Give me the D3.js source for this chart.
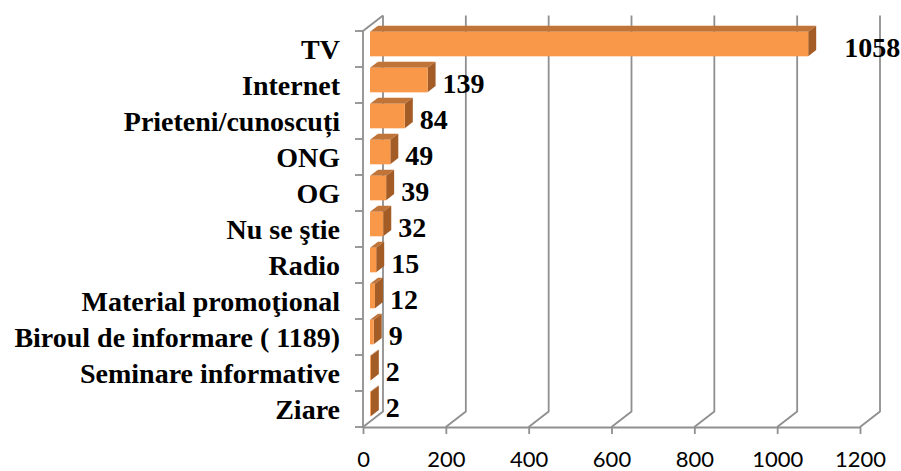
<!DOCTYPE html>
<html>
<head>
<meta charset="utf-8">
<script src="https://cdn.jsdelivr.net/npm/d3@7"></script>
<style>
  html, body { margin: 0; padding: 0; background: #fff; }
  .cat, .val { font-family: "Liberation Serif", "Times New Roman", serif; font-weight: bold; font-size: 28px; fill: #000; }
  .tick text { font-family: Lato, "Open Sans", sans-serif; font-size: 22px; fill: #000; }
</style>
</head>
<body>
<svg id="chart" width="901" height="471"></svg>
<script>
// data
var categories = ["TV", "Internet", "Prieteni/cunoscuți", "ONG", "OG", "Nu se ştie", "Radio",
  "Material promoţional", "Biroul de informare ( 1189)", "Seminare informative", "Ziare"];
var values = [1058, 139, 84, 49, 39, 32, 15, 12, 9, 2, 2];
var xTicks = [0, 200, 400, 600, 800, 1000, 1200];

var rows = categories.map(function(c, i) { return { name: c, value: values[i] }; });

var svg = d3.select("#chart");
var gridColor = "#8f8f8f";

// front plane of the 3d box, and the depth vector toward the back wall
var plotLeft = 363, plotRight = 860, plotTop = 31, plotBottom = 427;
var depth = { x: 20, y: -15.5 };
var f0 = 0.35, f1 = 0.75; // bar sits between these depth fractions

var x = d3.scaleLinear().domain([0, 1200]).range([plotLeft, plotRight]);
var y = d3.scaleBand().domain(categories).range([plotTop, plotBottom]);

// back wall gridlines + floor diagonals
var grid = svg.append("g")
  .attr("fill", "none")
  .attr("stroke", gridColor)
  .attr("stroke-width", 1.8);

grid.selectAll("path.grid")
  .data(xTicks)
  .join("path")
  .attr("class", "grid")
  .attr("d", function(v) {
    var bx = x(v) + depth.x;
    return "M" + bx + "," + (plotTop + depth.y) +
      "L" + bx + "," + (plotBottom + depth.y) +
      "L" + x(v) + "," + plotBottom;
  });

// left wall: front edge and top diagonal
grid.append("path")
  .attr("d", "M" + plotLeft + "," + plotBottom + "L" + plotLeft + "," + plotTop +
    "L" + (plotLeft + depth.x) + "," + (plotTop + depth.y));

// category ticks on the left wall, at band boundaries
var bounds = categories.map(function(c) { return y(c); }).concat([plotBottom]);
grid.selectAll("line.ytick")
  .data(bounds)
  .join("line")
  .attr("class", "ytick")
  .attr("x1", plotLeft - 8)
  .attr("x2", plotLeft)
  .attr("y1", function(d) { return d; })
  .attr("y2", function(d) { return d; });

// bars
var bw = y.bandwidth();
var barH = bw * 0.68;
var dd = { x: depth.x * (f1 - f0), y: depth.y * (f1 - f0) };

function barGeom(d) {
  var x0 = x(0) + depth.x * f0;
  var x1 = x(d.value) + depth.x * f0;
  var y0 = y(d.name) + (bw - barH) / 2 + 0.5 + depth.y * f0;
  return { x0: x0, x1: x1, y0: y0, y1: y0 + barH };
}

function pts(arr) {
  return arr.map(function(p) { return p.join(","); }).join(" ");
}

var bars = svg.append("g").selectAll("g.bar")
  .data(rows)
  .join("g")
  .attr("class", "bar");

bars.append("polygon")
  .attr("fill", "#c07438")
  .attr("points", function(d) {
    var g = barGeom(d);
    return pts([[g.x0, g.y0], [g.x1, g.y0], [g.x1 + dd.x, g.y0 + dd.y], [g.x0 + dd.x, g.y0 + dd.y]]);
  });

bars.append("polygon")
  .attr("fill", "#a35c26")
  .attr("points", function(d) {
    var g = barGeom(d);
    return pts([[g.x1, g.y0], [g.x1 + dd.x, g.y0 + dd.y], [g.x1 + dd.x, g.y1 + dd.y], [g.x1, g.y1]]);
  });

bars.append("rect")
  .attr("fill", "#f99848")
  .attr("x", function(d) { return barGeom(d).x0; })
  .attr("y", function(d) { return barGeom(d).y0; })
  .attr("width", function(d) { var g = barGeom(d); return Math.max(0, g.x1 - g.x0); })
  .attr("height", barH);

// value labels (the long TV bar's label sits further out, as in the original)
var maxVal = d3.max(values);
svg.append("g").selectAll("text")
  .data(rows)
  .join("text")
  .attr("class", "val")
  .attr("x", function(d) { return barGeom(d).x1 + (d.value === maxVal ? 36 : 15); })
  .attr("y", function(d) { var g = barGeom(d); return (g.y0 + g.y1) / 2 + 3; })
  .attr("dy", "0.35em")
  .text(function(d) { return d.value; });

// category labels
svg.append("g").selectAll("text")
  .data(categories)
  .join("text")
  .attr("class", "cat")
  .attr("x", 340)
  .attr("y", function(c) { return y(c) + bw / 2; })
  .attr("dy", "0.35em")
  .attr("text-anchor", "end")
  .text(function(c) { return c; });

// bottom value axis (floor front edge)
var xAxis = d3.axisBottom(x)
  .tickValues(xTicks)
  .tickFormat(d3.format("d"))
  .tickSize(7)
  .tickPadding(17)
  .tickSizeOuter(0);

var ax = svg.append("g")
  .attr("transform", "translate(0," + plotBottom + ")")
  .call(xAxis);
ax.selectAll("path, line").attr("stroke", gridColor).attr("stroke-width", 1.8);
</script>
</body>
</html>
